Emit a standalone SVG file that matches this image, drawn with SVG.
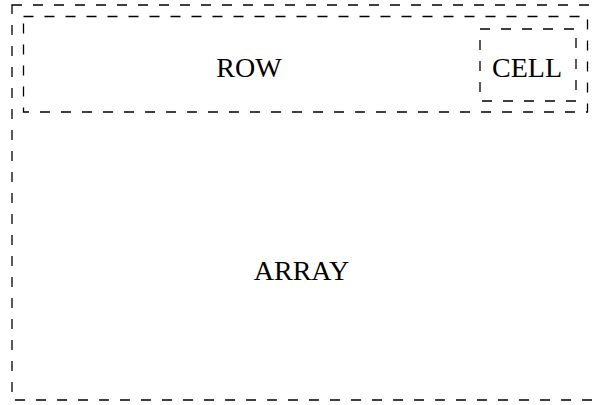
<svg xmlns="http://www.w3.org/2000/svg" width="592" height="405" viewBox="0 0 592 405">
  <style>
    .box { fill: none; stroke: #000; stroke-width: 1.3; stroke-dasharray: 10 11; }
    .label { font-family: "Liberation Serif", "Times New Roman", serif; font-size: 28px; fill: #000; text-anchor: middle; }
  </style>
  <rect width="592" height="405" fill="#fff"/>
  <g id="array">
    <rect class="box" x="12" y="5" width="586" height="395"/>
    <text class="label" x="301.5" y="280">ARRAY</text>
  </g>
  <g id="row">
    <rect class="box" x="23.5" y="16.5" width="564" height="95.5"/>
    <text class="label" x="249" y="77">ROW</text>
  </g>
  <g id="cell">
    <rect class="box" x="480" y="29" width="96" height="72"/>
    <text class="label" x="527" y="77">CELL</text>
  </g>
  <g id="connectors"/>
</svg>
